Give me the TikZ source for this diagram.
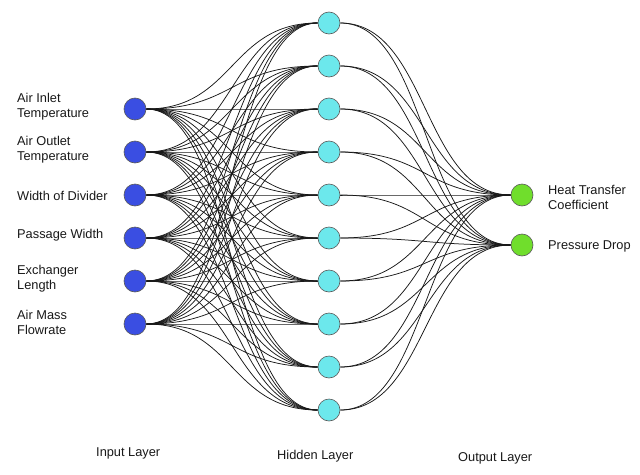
\documentclass[tikz,border=0pt]{standalone}
\usepackage{fontspec}
\setmainfont{Liberation Sans}
\pgfdeclarelayer{background}
\pgfsetlayers{background,main}
\definecolor{inblue}{RGB}{58,78,226}
\definecolor{hidcyan}{RGB}{108,232,236}
\definecolor{outgreen}{RGB}{112,222,44}
\begin{document}
\begin{tikzpicture}[x=1pt,y=-1pt,
  neuron/.style={circle,draw=black!65,line width=0.6pt,minimum size=22pt,inner sep=0pt},
  inp/.style={neuron,fill=inblue},
  hid/.style={neuron,fill=hidcyan},
  outp/.style={neuron,fill=outgreen},
  lab/.style={font=\fontsize{12.8}{15}\selectfont,align=left,anchor=west,inner sep=0pt,text=black!90},
  edge/.style={line width=0.75pt,black!90}]
\useasboundingbox (0,0) rectangle (640,474);
% input nodes
\foreach \i/\y in {1/109,2/152,3/195,4/238,5/281,6/324}
  \node[inp] (in-\i) at (135,\y) {};
% hidden nodes
\foreach \j/\y in {1/23,2/66,3/109,4/152,5/195,6/238,7/281,8/324,9/367,10/410}
  \node[hid] (h-\j) at (329,\y) {};
% output nodes
\node[outp] (o-1) at (522,195) {};
\node[outp] (o-2) at (522,245) {};
% connectors
\begin{pgfonlayer}{background}
\fill[white] (0,0) rectangle (640,474);
\foreach \i in {1,...,6}
  \foreach \j in {1,...,10}
    \draw[edge] (in-\i.east) .. controls +(88,0) and +(-88,0) .. (h-\j.west);
\foreach \j in {1,...,10}
  \foreach \k in {1,2}
    \draw[edge] (h-\j.east) .. controls +(88,0) and +(-88,0) .. (o-\k.west);
\end{pgfonlayer}
% input labels
\node[lab] (l1) at (17,107) {Air Inlet\\Temperature};
\node[lab] (l2) at (17,150) {Air Outlet\\Temperature};
\node[lab] (l3) at (17,196) {Width of Divider};
\node[lab] (l4) at (17,235) {Passage Width};
\node[lab] (l5) at (17,279) {Exchanger\\Length};
\node[lab] (l6) at (17,322) {Air Mass\\Flowrate};
% output labels
\node[lab] (r1) at (548,197) {Heat Transfer\\Coefficient};
\node[lab] (r2) at (548,246) {Pressure Drop};
% layer titles
\node[lab] (t1) at (96,453) {Input Layer};
\node[lab] (t2) at (277,456) {Hidden Layer};
\node[lab] (t3) at (458,458) {Output Layer};
\end{tikzpicture}
\end{document}
